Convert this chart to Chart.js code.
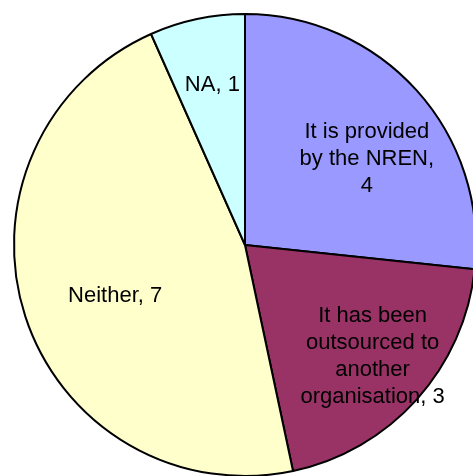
<!DOCTYPE html>
<html lang="en">
<head>
    <meta charset="UTF-8">
    <title>NREN pie</title>
    <script src="https://cdn.jsdelivr.net/npm/chart.js"></script>
    <style>
        html, body { margin: 0; padding: 0; background: #fff; overflow: hidden; width: 473px; height: 476px; }
        #wrap { position: absolute; left: 0; top: 0; width: 490px; height: 490px; }
    </style>
</head>
<body>
    <div id="wrap"><canvas id="pie" width="490" height="490"></canvas></div>
    <script>
        // data
        const categories = ['It is provided by the NREN', 'It has been outsourced to another organisation', 'Neither', 'NA'];
        const values = [4, 3, 7, 1];
        const labelLines = [
            ['It is provided', 'by the NREN,', '4'],
            ['It has been', 'outsourced to', 'another', 'organisation, 3'],
            ['Neither, 7'],
            ['NA, 1']
        ];
        const colors = ['#9999FF', '#993366', '#FFFFCC', '#CCFFFF'];

        // label placement: fraction of radius along the slice middle, plus a small nudge in px
        const labelRadius = [0.64, 0.72, 0.6, 0.7];
        const labelNudge = [[12, 13], [4, 0], [2, 8], [1, -2]];

        const sliceLabels = {
            id: 'sliceLabels',
            afterDatasetsDraw(chart) {
                const ctx = chart.ctx;
                const meta = chart.getDatasetMeta(0);
                ctx.save();
                ctx.font = '22px "Liberation Sans", Arial, sans-serif';
                ctx.fillStyle = '#000';
                ctx.textAlign = 'center';
                ctx.textBaseline = 'middle';
                const lh = 27;
                meta.data.forEach((arc, i) => {
                    const p = arc.getProps(['x', 'y', 'startAngle', 'endAngle', 'outerRadius'], true);
                    const mid = (p.startAngle + p.endAngle) / 2;
                    const r = p.outerRadius * labelRadius[i];
                    const cx = p.x + Math.cos(mid) * r + labelNudge[i][0];
                    const cy = p.y + Math.sin(mid) * r + labelNudge[i][1];
                    const lines = labelLines[i];
                    lines.forEach((t, k) => {
                        ctx.fillText(t, cx, cy + (k - (lines.length - 1) / 2) * lh);
                    });
                });
                ctx.restore();
            }
        };

        new Chart(document.getElementById('pie'), {
            type: 'pie',
            data: {
                labels: categories,
                datasets: [{
                    data: values,
                    backgroundColor: colors,
                    borderColor: '#000',
                    borderWidth: 2
                }]
            },
            options: {
                responsive: false,
                animation: false,
                layout: { padding: 13 },
                plugins: {
                    legend: { display: false },
                    tooltip: { enabled: false }
                }
            },
            plugins: [sliceLabels]
        });
    </script>
</body>
</html>
